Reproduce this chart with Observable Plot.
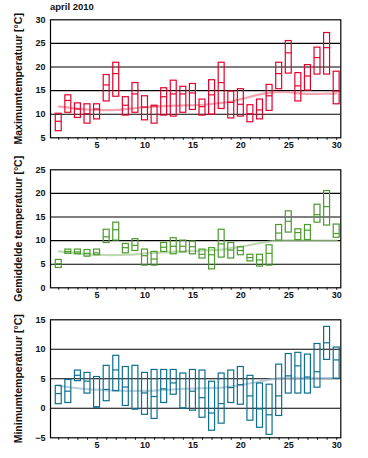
<!DOCTYPE html>
<html><head><meta charset="utf-8">
<script src="https://cdn.jsdelivr.net/npm/d3@7"></script>
<script src="https://cdn.jsdelivr.net/npm/@observablehq/plot@0.6"></script>
<style>
body{margin:0;background:#fff;font-family:"Liberation Sans",Arial,sans-serif;}
#wrap{position:relative;width:368px;height:458px;overflow:hidden;}
#title{position:absolute;left:50px;top:1px;font-weight:bold;font-size:9.5px;line-height:11px;color:#111;}
.panel{position:absolute;left:0;width:368px;height:150px;}
.panel svg{overflow:visible;background:transparent;}
</style></head><body><div id="wrap"><div id="title">april 2010</div></div>
<script>
const days = d3.range(1, 31);

const maxHigh = [10.1,14.0,12.3,12.1,12.1,18.3,20.9,13.6,16.6,13.8,11.8,15.5,17.1,15.8,16.4,13.1,17.2,20.9,14.8,15.3,11.9,13.1,16.2,20.9,25.5,18.7,20.4,24.1,27.2,19.0];
const maxMid  = [8.5,12.9,11.1,10.1,11.1,16.2,18.6,11.9,14.3,11.5,11.75,13.7,14.3,14.3,14.5,11.6,14.1,16.7,12.5,12.1,10.1,10.9,13.9,18.6,23.0,16.0,18.1,22.0,24.1,14.9];
const maxLow  = [6.4,10.3,9.2,8.0,8.9,12.7,13.7,9.7,10.3,8.7,8.0,9.7,9.5,10.3,10.9,9.7,9.9,11.1,9.1,9.5,8.3,8.9,10.7,15.3,18.6,12.7,15.0,18.4,18.4,12.1];
const maxNormal = [11.6,11.4,11.2,11.0,10.9,10.85,10.9,11.1,11.3,11.5,11.6,11.7,11.8,11.85,11.9,12.0,12.2,12.4,12.7,13.2,13.7,14.2,14.5,14.7,14.65,14.45,14.3,14.3,14.35,14.4];

const meanHigh = [5.9,8.1,8.1,8.0,8.1,12.3,13.8,9.3,10.3,8.1,7.6,9.5,10.5,10.0,9.8,8.1,8.4,12.3,9.5,8.6,7.0,7.0,9.0,13.3,16.2,12.4,13.3,17.6,20.5,13.4];
const meanMid  = [5.1,7.7,7.6,7.3,7.4,10.8,12.3,8.5,9.0,6.8,6.1,8.6,8.8,8.8,8.7,7.1,7.0,9.3,8.0,7.9,6.4,5.9,7.3,11.6,14.1,11.7,12.2,15.5,17.2,11.5];
const meanLow  = [4.2,7.2,7.1,6.6,6.9,9.5,10.0,7.3,7.8,4.7,4.7,7.6,7.1,7.5,7.1,6.2,3.9,6.4,6.2,6.9,5.6,4.5,4.7,10.0,11.7,10.1,10.1,13.8,13.2,10.6];
const meanNormal = [7.7,7.5,7.3,7.1,7.0,6.95,6.95,7.0,7.1,7.3,7.4,7.5,7.6,7.7,7.8,7.9,8.0,8.1,8.4,8.7,9.1,9.5,9.8,10.0,10.05,10.05,10.0,10.0,10.0,10.0];

const minHigh = [3.8,4.8,6.4,6.0,5.3,7.2,8.9,7.0,7.2,6.0,6.5,6.5,6.5,5.9,6.5,6.4,4.5,5.9,6.4,7.0,5.5,4.2,4.0,7.4,9.2,9.4,9.1,10.9,13.8,10.3];
const minMid  = [2.5,2.9,5.6,4.6,0.25,3.2,6.5,3.6,-0.1,2.6,2.0,3.3,4.3,0.05,2.9,1.8,-0.8,0.8,3.5,4.0,2.1,-0.1,-1.1,2.1,5.5,7.2,5.3,6.2,11.1,8.2];
const minLow  = [0.7,0.9,4.6,2.5,0.1,1.2,2.9,0.4,-0.2,-1.1,-1.8,0.9,2.3,-0.05,-0.4,-1.6,-3.8,-2.6,0.9,0.6,-2.1,-3.3,-4.5,-1.3,2.5,2.5,2.5,3.5,8.2,5.0];
const minNormal = [3.8,3.6,3.4,3.25,3.15,3.05,3.0,2.95,2.95,2.95,3.0,3.1,3.2,3.3,3.35,3.4,3.45,3.5,3.7,3.95,4.25,4.55,4.85,5.1,5.15,5.15,5.1,5.1,5.1,5.1];

const maxTicks = [5,10,15,20,25,30];
const meanTicks = [0,5,10,15,20,25];
const minTicks = [-5,0,5,10,15];

const HW = 0.31;

function panel(top, label, ticks, low, mid, high, normal, color, lineColor) {
  const rows = days.map((d, i) => ({day: d, low: low[i], mid: mid[i], high: high[i], normal: normal[i]}));
  const chart = Plot.plot({
    width: 368, height: 150,
    marginLeft: 50, marginRight: 27.7, marginTop: 19.3, marginBottom: 12.7,
    style: {background: "transparent", overflow: "visible", fontFamily: "'Liberation Sans', Arial, sans-serif", fontSize: "9px", fontWeight: "bold", color: "#111"},
    x: {domain: [0.14, 30.43]},
    y: {domain: [ticks[0], ticks[ticks.length - 1]]},
    marks: [
      Plot.ruleY(ticks.slice(1, -1), {stroke: "black", strokeWidth: 1.1}),
      Plot.line(rows, {x: "day", y: "normal", curve: "catmull-rom", stroke: lineColor, strokeWidth: 2.2, strokeOpacity: 0.75}),
      Plot.rect(rows, {x1: d => d.day - HW, x2: d => d.day + HW, y1: "low", y2: "high", stroke: color, fill: "none", strokeWidth: 1.2}),
      Plot.ruleY(rows, {x1: d => d.day - HW, x2: d => d.day + HW, y: "mid", stroke: color, strokeWidth: 1.2}),
      Plot.frame({stroke: "black", strokeWidth: 1.2}),
      Plot.axisX({ticks: days, tickSize: 2.5, tickPadding: 1.5, tickFormat: d => d % 5 === 0 ? d : "", label: null}),
      Plot.axisY({ticks, tickSize: 0, tickPadding: 5, label: null}),
      Plot.text([label], {text: d => d, frameAnchor: "left", textAnchor: "middle", lineAnchor: "middle", rotate: -90, dx: -32, fontSize: 10.5, fontWeight: "bold", fill: "#111"})
    ]
  });
  const div = document.createElement("div");
  div.className = "panel";
  div.style.top = top + "px";
  div.appendChild(chart);
  document.getElementById("wrap").appendChild(div);
}

panel(0, "Maximumtemperatuur [°C]", maxTicks, maxLow, maxMid, maxHigh, maxNormal, "#e4002b", "#ee8796");
panel(150, "Gemiddelde temperatuur [°C]", meanTicks, meanLow, meanMid, meanHigh, meanNormal, "#4a9a2c", "#a9cc9a");
panel(300, "Minimumtemperatuur [°C]", minTicks, minLow, minMid, minHigh, minNormal, "#0d6e90", "#a3bfcf");
</script></body></html>
